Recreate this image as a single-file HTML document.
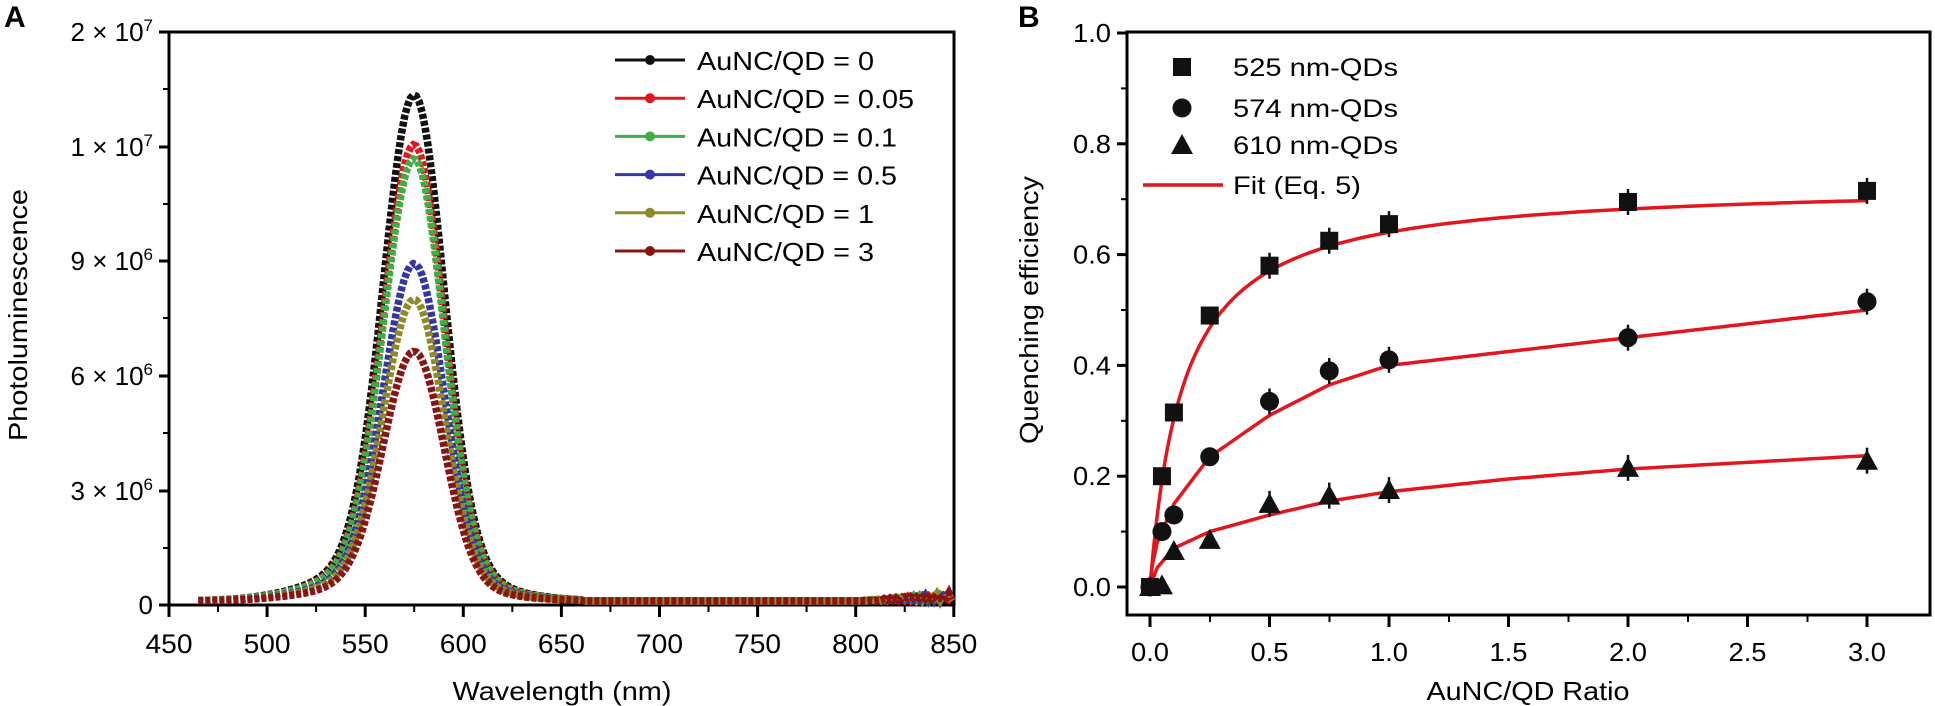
<!DOCTYPE html>
<html><head><meta charset="utf-8"><style>
html,body{margin:0;padding:0;background:#fff;width:1935px;height:706px;overflow:hidden}
svg{display:block;font-family:"Liberation Sans",sans-serif}
</style></head><body>
<svg id="s" width="1935" height="706" viewBox="0 0 1935 706"></svg>
<script>
const s=document.getElementById('s');let h='';
function t(x,y,txt,sz,anc,extra){h+=`<text x="${x}" y="${y}" font-size="${sz}" text-anchor="${anc||'start'}" ${extra||''}>${txt}</text>`;}
// Panel A
const AL=169,AR=954,AT=32,AB=605;
h+=`<rect x="${AL}" y="${AT}" width="${AR-AL}" height="${AB-AT}" fill="none" stroke="#000" stroke-width="3"/>`;
t(4,27,'A',30,'start','font-weight="bold"');
const ylabs=[['2 × 10<tspan dy="-10" font-size="17">7</tspan>',32],['1 × 10<tspan dy="-10" font-size="17">7</tspan>',147],['9 × 10<tspan dy="-10" font-size="17">6</tspan>',261],['6 × 10<tspan dy="-10" font-size="17">6</tspan>',376],['3 × 10<tspan dy="-10" font-size="17">6</tspan>',491],['0',605]];
ylabs.forEach((l,i)=>{h+=`<line x1="${AL-10}" y1="${l[1]}" x2="${AL}" y2="${l[1]}" stroke="#000" stroke-width="3"/>`;t(AL-16,l[1]+9,l[0],26,'end');
 if(i<5)h+=`<line x1="${AL-6}" y1="${l[1]+57}" x2="${AL}" y2="${l[1]+57}" stroke="#000" stroke-width="2"/>`;});
for(let i=0;i<=8;i++){const x=AL+i*98.1;h+=`<line x1="${x}" y1="${AB}" x2="${x}" y2="${AB+12}" stroke="#000" stroke-width="3"/>`;t(x,AB+48,450+i*50,27,'middle','textLength="47" lengthAdjust="spacingAndGlyphs"');
 if(i<8)h+=`<line x1="${x+49}" y1="${AB}" x2="${x+49}" y2="${AB+7}" stroke="#000" stroke-width="2"/>`;}
t(562,700,'Wavelength (nm)',26,'middle','textLength="219" lengthAdjust="spacingAndGlyphs"');
t(27,315,'Photoluminescence',26,'middle','transform="rotate(-90 27 315)" textLength="252" lengthAdjust="spacingAndGlyphs"');
const ser=[['#111',507,'AuNC/QD = 0'],['#e8141c',457,'AuNC/QD = 0.05'],['#3cb043',443,'AuNC/QD = 0.1'],['#3535a8',338,'AuNC/QD = 0.5'],['#8f8a25',302,'AuNC/QD = 1'],['#8a1414',250,'AuNC/QD = 3']];
const xp=w=>AL+(w-450)*98.1/50;
ser.forEach((sr,k)=>{let p='';for(let w=465;w<=850;w+=1.5){const sg=w<575?15.5:15;let g=0.92*Math.exp(-Math.pow((w-575)/sg,2)/2)+0.08*Math.exp(-Math.pow((w-568)/35,2)/2);let v=sr[1]*g+4;if(w>660)v=4;if(w>800)v=4+((Math.floor(w)*7+k*13)%11)*(w-800)/60;p+=(p?'L':'M')+xp(w).toFixed(1)+','+(AB-v).toFixed(1);}
 h+=`<path d="${p}" fill="none" stroke="${sr[0]}" stroke-width="7.5" stroke-dasharray="5 2"/>`;
 const y=60+k*38.2;h+=`<line x1="615" y1="${y}" x2="685" y2="${y}" stroke="${sr[0]}" stroke-width="3"/><circle cx="650" cy="${y}" r="5" fill="${sr[0]}"/>`;t(697,y+10,sr[2],26,'start',`textLength="${[177,217,200,200,177,177][k]}" lengthAdjust="spacingAndGlyphs"`);});
// Panel B
const BL=1127,BR=1930,BT=32,BB=615,X0=1150,XS=119.5*2,Y0=587,YS=110.8*5;
h+=`<rect x="${BL}" y="${BT}" width="${BR-BL}" height="${BB-BT}" fill="none" stroke="#000" stroke-width="3"/>`;
t(1018,27,'B',30,'start','font-weight="bold"');
for(let i=0;i<=5;i++){const y=Y0-i*110.8;h+=`<line x1="${BL-10}" y1="${y}" x2="${BL}" y2="${y}" stroke="#000" stroke-width="3"/>`;t(BL-16,y+9,(i*0.2).toFixed(1),26,'end','textLength="38" lengthAdjust="spacingAndGlyphs"');
 if(i<5)h+=`<line x1="${BL-6}" y1="${y-55.4}" x2="${BL}" y2="${y-55.4}" stroke="#000" stroke-width="2"/>`;}
for(let i=0;i<=6;i++){const x=X0+i*119.5;h+=`<line x1="${x}" y1="${BB}" x2="${x}" y2="${BB+12}" stroke="#000" stroke-width="3"/>`;t(x,BB+46,(i*0.5).toFixed(1),26,'middle','textLength="38" lengthAdjust="spacingAndGlyphs"');
 if(i<6)h+=`<line x1="${x+60}" y1="${BB}" x2="${x+60}" y2="${BB+7}" stroke="#000" stroke-width="2"/>`;}
t(1528,700,'AuNC/QD Ratio',26,'middle','textLength="203" lengthAdjust="spacingAndGlyphs"');
t(1038,310,'Quenching efficiency',26,'middle','transform="rotate(-90 1038 310)" textLength="268" lengthAdjust="spacingAndGlyphs"');
const X=x=>X0+x*XS,Y=y=>Y0-y*YS;
function interp(pts,x){for(let i=0;i<pts.length-1;i++){if(x<=pts[i+1][0]){const a=pts[i],b=pts[i+1];const f=(x-a[0])/(b[0]-a[0]);return a[1]+f*(b[1]-a[1]);}}return pts[pts.length-1][1];}
const f1=x=>0.73*x/(0.14+x);
const f2p=[[0,0],[0.01,0.04],[0.03,0.08],[0.1,0.15],[0.25,0.235],[0.5,0.31],[0.75,0.365],[1,0.40],[1.5,0.425],[2,0.45],[3,0.50]];
const f3p=[[0,0],[0.03,0.035],[0.1,0.07],[0.25,0.1],[0.5,0.13],[0.75,0.155],[1,0.172],[1.5,0.195],[2,0.213],[3,0.237]];
[x=>f1(x),x=>interp(f2p,x),x=>interp(f3p,x)].forEach(f=>{let p='';for(let x=0;x<=3.0001;x+=(x<0.3?0.005:0.03)){p+=(p?'L':'M')+X(x).toFixed(1)+','+Y(f(x)).toFixed(1);}h+=`<path d="${p}" fill="none" stroke="#e3161d" stroke-width="3.5" stroke-linejoin="round"/>`;});
const d1=[[0,0],[0.05,0.2],[0.1,0.315],[0.25,0.49],[0.5,0.58],[0.75,0.625],[1,0.655],[2,0.695],[3,0.715]];
const d2=[[0,0],[0.05,0.1],[0.1,0.13],[0.25,0.235],[0.5,0.335],[0.75,0.39],[1,0.41],[2,0.45],[3,0.515]];
const d3=[[0,0],[0.05,0.003],[0.1,0.065],[0.25,0.085],[0.5,0.15],[0.75,0.165],[1,0.175],[2,0.215],[3,0.228]];
const sq=(x,y)=>`<rect x="${x-9}" y="${y-9}" width="18" height="18" fill="#111"/>`;
const ci=(x,y)=>`<circle cx="${x}" cy="${y}" r="9.5" fill="#111"/>`;
const tr=(x,y)=>`<polygon points="${x},${y-11} ${x+11},${y+9} ${x-11},${y+9}" fill="#111"/>`;
[[d1,sq],[d2,ci],[d3,tr]].forEach(([d,m])=>d.forEach(p=>{const x=X(p[0]),y=Y(p[1]);if(p[0]>=0.5)h+=`<line x1="${x}" y1="${y-13}" x2="${x}" y2="${y+13}" stroke="#111" stroke-width="2.5"/>`;h+=m(x,y);}));
h+=sq(1182,67)+ci(1182,108)+tr(1182,145);
h+=`<line x1="1143" y1="185" x2="1223" y2="185" stroke="#e3161d" stroke-width="3.5"/>`;
const lo='lengthAdjust="spacingAndGlyphs"';
t(1233,76,'525 nm-QDs',25,'start',`textLength="165" ${lo}`);t(1233,117,'574 nm-QDs',25,'start',`textLength="165" ${lo}`);t(1233,154,'610 nm-QDs',25,'start',`textLength="165" ${lo}`);t(1233,194,'Fit (Eq. 5)',25,'start',`textLength="128" ${lo}`);
s.innerHTML=h;
</script>
</body></html>
